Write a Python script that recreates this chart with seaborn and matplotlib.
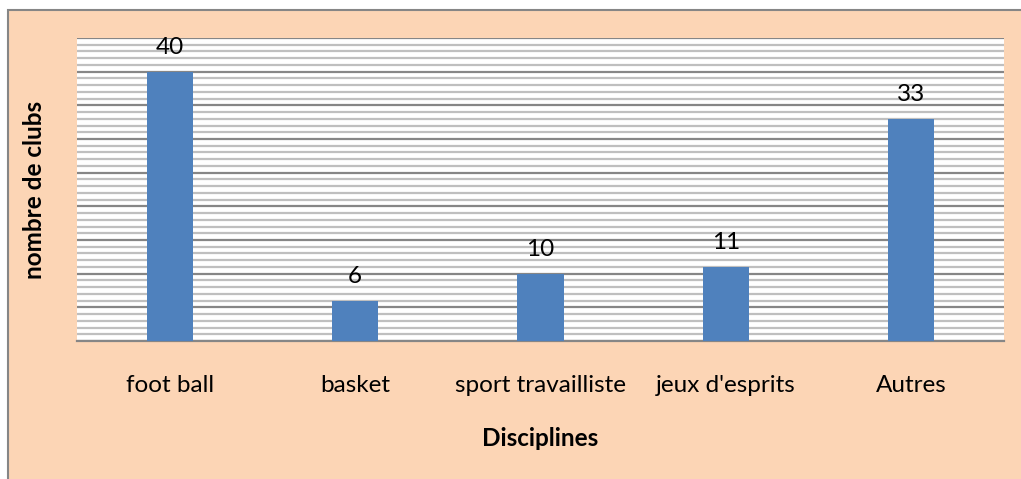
import matplotlib
matplotlib.use("Agg")
import matplotlib.pyplot as plt
import seaborn as sns
import pandas as pd
from matplotlib.patches import Rectangle

categories = ["foot ball", "basket", "sport travailliste", "jeux d'esprits", "Autres"]
values = [40, 6, 10, 11, 33]

sns.set_style("white")
plt.rcParams['font.family'] = ['Lato', 'DejaVu Sans']
plt.rcParams['text.color'] = 'black'

W, H = 1021, 479
FS = 17.5
fig = plt.figure(figsize=(W / 100, H / 100), dpi=100, facecolor="white")
# peach chart area with grey frame
fig.patches.append(Rectangle((8 / W, -0.01), 1.0, 1.01 - 10 / H, transform=fig.transFigure,
                             facecolor="#FCD5B5", edgecolor="#868686", linewidth=1.5, zorder=-5))

ax = fig.add_axes([77 / W, 1 - 341 / H, (1004 - 77) / W, (341 - 38) / H])
ax.set_zorder(2)
ax.set_facecolor("white")

df = pd.DataFrame({"Disciplines": categories, "clubs": values})
sns.barplot(data=df, x="Disciplines", y="clubs", color="#4F81BD", width=0.25,
            saturation=1, linewidth=0, ax=ax, zorder=3)

ax.set_ylim(0, 45)
ax.set_xlim(-0.5, len(categories) - 0.5)
ax.set_yticks(range(0, 46, 5))
ax.set_yticks(range(0, 46, 1), minor=True)
ax.yaxis.grid(True, which="minor", color="#BFBFBF", linewidth=1.6, zorder=1)
ax.yaxis.grid(True, which="major", color="#868686", linewidth=1.6, zorder=2)
ax.set_axisbelow(True)
ax.tick_params(axis="y", which="both", left=False, labelleft=False)
ax.tick_params(axis="x", bottom=False, labelsize=FS, pad=21, labelcolor="black")

for s in ["top", "right", "left"]:
    ax.spines[s].set_visible(False)
ax.spines["bottom"].set_color("#868686")
ax.spines["bottom"].set_linewidth(1.6)

ax.bar_label(ax.containers[0], labels=[str(v) for v in values], padding=10,
             fontsize=FS, color="black")

ax.set_xlabel("Disciplines", fontsize=FS, fontweight="bold", labelpad=22, color="black")
ax.set_ylabel("nombre de clubs", fontsize=FS, fontweight="bold", labelpad=22, color="black")

fig.savefig("out.png", dpi=100)
